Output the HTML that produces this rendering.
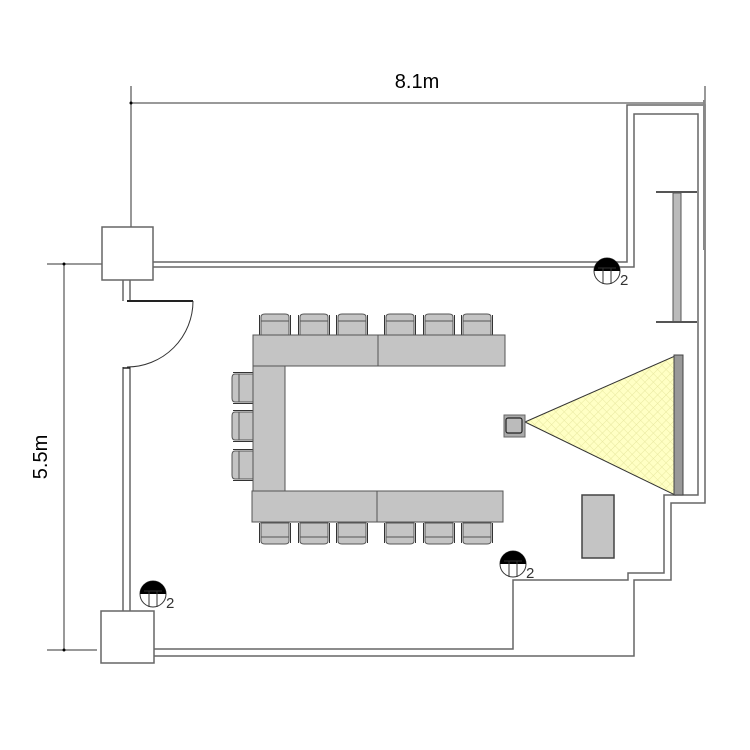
<!DOCTYPE html>
<html><head><meta charset="utf-8"><style>
html,body{margin:0;padding:0;background:#fff;}
svg{display:block;}
</style></head><body>
<svg width="750" height="750" viewBox="0 0 750 750" xmlns="http://www.w3.org/2000/svg">
<defs>
<pattern id="hatch" width="6" height="6" patternUnits="userSpaceOnUse" patternTransform="rotate(45)">
<rect width="6" height="6" fill="#ffffc4"/>
<path d="M0 0H6M0 0V6" stroke="#e8e8a0" stroke-width="1"/>
</pattern>
<g id="chair">
<path d="M2 22 V4 Q2 1 6 1 H26 Q30 1 30 4 V22 Z" fill="#c4c4c4" stroke="#555" stroke-width="1"/>
<line x1="2" y1="8" x2="30" y2="8" stroke="#555" stroke-width="1"/>
<line x1="0.5" y1="2" x2="0.5" y2="22" stroke="#333" stroke-width="1"/>
<line x1="31.5" y1="2" x2="31.5" y2="22" stroke="#333" stroke-width="1"/>
</g>
<g id="light">
<circle cx="0" cy="0" r="13" fill="#fff" stroke="#333" stroke-width="1"/>
<path d="M-13 0 A13 13 0 0 1 13 0 Z" fill="#000"/>
<path d="M-4 -3 V13 M4 -3 V13 M-9 -3 H9" stroke="#333" stroke-width="1" fill="none"/>
</g>
</defs>

<g stroke="#333" stroke-width="1" fill="none">
<line x1="131" y1="103" x2="705" y2="103"/>
<line x1="705" y1="86" x2="705" y2="105"/>
<line x1="47" y1="264" x2="112" y2="264"/>
<line x1="47" y1="650" x2="97" y2="650"/>
<line x1="64" y1="264" x2="64" y2="650"/>
</g>
<line x1="131" y1="86" x2="131" y2="246" stroke="#777" stroke-width="1.5"/>
<circle cx="131" cy="103" r="1.5" fill="#000"/>
<circle cx="64" cy="264" r="1.5" fill="#000"/>
<circle cx="64" cy="650" r="1.5" fill="#000"/>
<text x="417" y="88" font-family="Liberation Sans, sans-serif" font-size="20" text-anchor="middle" fill="#000">8.1m</text>
<text transform="translate(47,457) rotate(-90)" font-family="Liberation Sans, sans-serif" font-size="20" text-anchor="middle" fill="#000">5.5m</text>

<g stroke="#666" stroke-width="1.5" fill="none">
<rect x="102" y="227" width="51" height="53" fill="#fff"/>
<rect x="101" y="611" width="53" height="52" fill="#fff"/>
<polyline points="153,262 627,262 627,105 705,105 705,503 671,503 671,580 634,580 634,656 154,656"/>
<polyline points="153,267 634,267 634,114 698,114 698,495 664,495 664,573 628,573 628,580 513,580 513,649 154,649"/>
<line x1="123" y1="280" x2="123" y2="301"/>
<line x1="130" y1="280" x2="130" y2="301"/>
<line x1="123" y1="367" x2="123" y2="611"/>
<line x1="130" y1="367" x2="130" y2="611"/>
</g>
<line x1="704" y1="100" x2="704" y2="250" stroke="#888" stroke-width="2"/>
<line x1="127" y1="301" x2="193" y2="301" stroke="#222" stroke-width="2"/>
<path d="M193 301 A66 66 0 0 1 127 367" stroke="#333" stroke-width="1" fill="none"/>
<line x1="123" y1="368" x2="130" y2="368" stroke="#222" stroke-width="1.5"/>

<line x1="656" y1="192" x2="697" y2="192" stroke="#555" stroke-width="2"/>
<rect x="673" y="193" width="8" height="129" fill="#bbb" stroke="#555" stroke-width="1"/>
<line x1="656" y1="322" x2="697" y2="322" stroke="#555" stroke-width="2"/>

<use href="#chair" x="259" y="313"/>
<use href="#chair" x="298" y="313"/>
<use href="#chair" x="336" y="313"/>
<use href="#chair" x="384" y="313"/>
<use href="#chair" x="423" y="313"/>
<use href="#chair" x="461" y="313"/>
<g transform="translate(0,1067) scale(1,-1)">
<use href="#chair" x="259" y="522"/>
<use href="#chair" x="298" y="522"/>
<use href="#chair" x="336" y="522"/>
<use href="#chair" x="384" y="522"/>
<use href="#chair" x="423" y="522"/>
<use href="#chair" x="461" y="522"/>
</g>
<g transform="rotate(-90 0 0)">
<use href="#chair" x="-404" y="231"/>
<use href="#chair" x="-442" y="231"/>
<use href="#chair" x="-481" y="231"/>
</g>

<g fill="#c4c4c4" stroke="#555" stroke-width="1">
<rect x="253" y="335" width="125" height="31"/>
<rect x="378" y="335" width="127" height="31"/>
<rect x="253" y="366" width="32" height="125"/>
<rect x="252" y="491" width="125" height="31"/>
<rect x="377" y="491" width="126" height="31"/>
</g>

<polygon points="525,422 675,356 675,495" fill="url(#hatch)" stroke="#333" stroke-width="1"/>
<rect x="674" y="355" width="9" height="140" fill="#999" stroke="#444" stroke-width="1"/>
<rect x="504" y="415" width="21" height="22" fill="#aaa" stroke="#666" stroke-width="1"/>
<rect x="506" y="418" width="16" height="15" rx="2" fill="#bbb" stroke="#222" stroke-width="1.2"/>

<rect x="582" y="495" width="32" height="63" fill="#c4c4c4" stroke="#444" stroke-width="1.5"/>

<use href="#light" x="607" y="271"/>
<use href="#light" x="513" y="564"/>
<use href="#light" x="153" y="594"/>
<g font-family="Liberation Sans, sans-serif" font-size="15" fill="#333">
<text x="620" y="285">2</text>
<text x="526" y="578">2</text>
<text x="166" y="608">2</text>
</g>
</svg>
</body></html>
